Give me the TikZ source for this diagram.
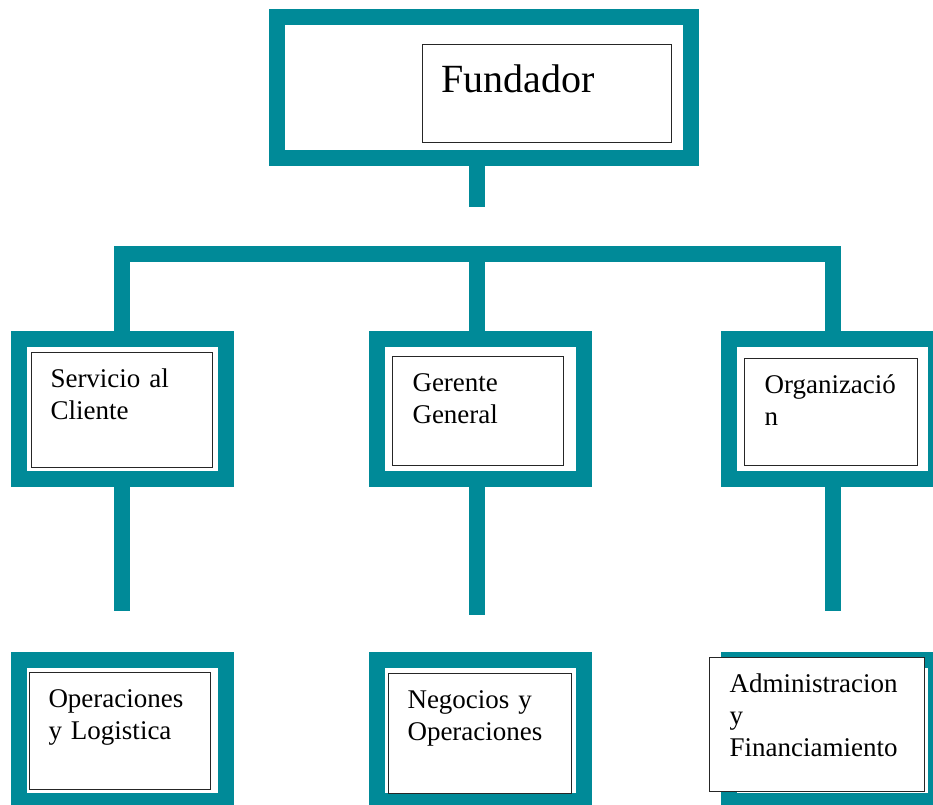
\documentclass[tikz,border=0pt]{standalone}
\usepackage{fontspec}
\setmainfont{Liberation Serif}
\usepackage{xcolor}
\usepackage{tikz}
\usetikzlibrary{positioning,calc}
\definecolor{orgteal}{RGB}{0,138,152}

\begin{document}
\begin{tikzpicture}[
        x=1pt, y=-1pt,
        tealframe/.style={rectangle, draw=orgteal, line width=16pt, minimum width=207pt, minimum height=141pt, inner sep=0pt, outer sep=0pt},
        textbox/.style={rectangle, draw=black!85, fill=white, line width=1pt, anchor=north west, align=left, inner xsep=19pt, inner ysep=0pt, text height=35pt, font=\fontsize{27}{32}\selectfont},
        link/.style={draw=orgteal, line width=16pt, line join=miter}
      ]
        \path[use as bounding box, clip] (0,0) rectangle (933,804);

        % Founder
        \node[tealframe, minimum width=414pt] (fund) at (484,87.5) {};
        \node[textbox, text width=211pt, text height=48pt, text depth=50pt, font=\fontsize{40}{48}\selectfont] (fundtxt) at (422,44) {Fundador};

        % Second level
        \node[tealframe, minimum height=140pt] (serv) at (122,409) {};
        \node[tealframe, minimum height=140pt] (ger) at (480,409) {};
        \node[tealframe, minimum height=140pt] (org) at (832.5,409) {};
        \node[textbox, text width=143pt, text depth=80pt] (servtxt) at (31,352) {Servicio al\\Cliente};
        \node[textbox, text width=131pt, inner xsep=20pt, text depth=74pt] (gertxt) at (392,356) {Gerente\\General};
        \node[textbox, text width=133pt, inner xsep=20pt, text depth=72pt] (orgtxt) at (744,358) {Organizació\\n};

        % Third level
        \node[tealframe] (oper) at (122,730.5) {};
        \node[tealframe] (neg) at (480,730.5) {};
        \node[tealframe] (adm) at (832.5,730.5) {};
        \node[textbox, text width=143pt, text depth=82pt] (opertxt) at (29,672) {Operaciones\\y Logistica};
        \node[textbox, text width=145pt, text depth=85pt] (negtxt) at (388,673) {Negocios y\\Operaciones};
        \node[textbox, text width=175pt, inner xsep=20pt, text depth=99pt] (admtxt) at (709,657) {Administracion\\y\\Financiamiento};

        % Connectors
        \coordinate (fundend) at (477,207);
        \coordinate (bar) at (477,253.5);
        \coordinate (servend) at (122,611);
        \coordinate (gerend) at (477,615);
        \coordinate (orgend) at (832.5,611);
        \draw[link] (fundend |- fund.south) -- (fundend);
        \draw[link] (serv.north) |- (bar) -| (org.north);
        \draw[link] (bar) -- (bar |- ger.north);
        \draw[link] (serv.south) -- (servend);
        \draw[link] (gerend |- ger.south) -- (gerend);
        \draw[link] (org.south) -- (orgend);
      \end{tikzpicture}
\end{document}
